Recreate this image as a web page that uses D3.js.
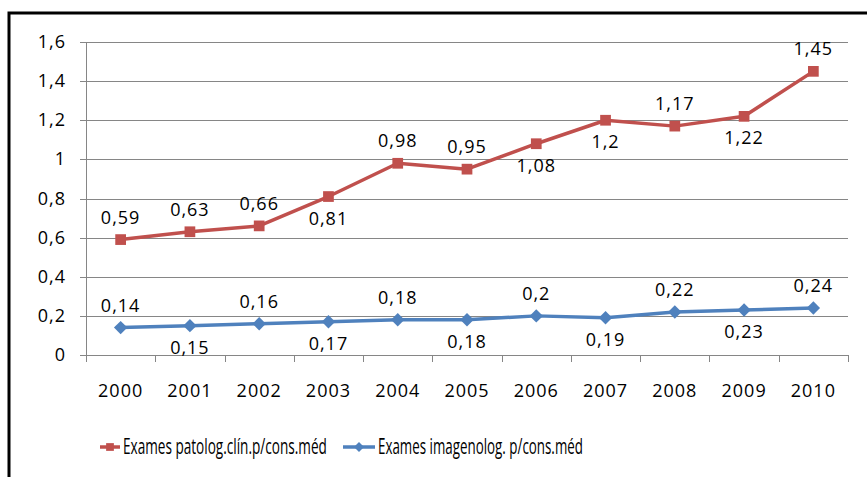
<!DOCTYPE html>
<html>
<head>
<meta charset="utf-8">
<script src="https://cdn.jsdelivr.net/npm/d3@7"></script>
<style>
  body { margin: 0; background: #fff; }
  text { font-family: "Open Sans", "Liberation Sans", sans-serif; fill: #000; }
</style>
</head>
<body>
<svg width="867" height="477"></svg>
<script>
const years = ['2000', '2001', '2002', '2003', '2004', '2005', '2006', '2007', '2008', '2009', '2010'];
const patolog = [0.59, 0.63, 0.66, 0.81, 0.98, 0.95, 1.08, 1.2, 1.17, 1.22, 1.45];
const imagen = [0.14, 0.15, 0.16, 0.17, 0.18, 0.18, 0.2, 0.19, 0.22, 0.23, 0.24];
// label placement: 1 = above, -1 = below
const patologPos = [1, 1, 1, -1, 1, 1, -1, -1, 1, -1, 1];
const imagenPos = [1, -1, 1, -1, 1, -1, 1, -1, 1, -1, 1];
const yTicks = [0, 0.2, 0.4, 0.6, 0.8, 1, 1.2, 1.4, 1.6];
const seriesNames = ['Exames patolog.clín.p/cons.méd', 'Exames imagenolog. p/cons.méd'];

const svg = d3.select('svg');
const fmt = d => String(d).replace('.', ',');

const x = d3.scaleBand().domain(years).range([86, 848]);
const y = d3.scaleLinear().domain([0, 1.6]).range([355, 42]);

// square-ish diamond like the spreadsheet marker
const diamond = {
  draw(ctx, size) {
    const r = Math.sqrt(size / 2);
    ctx.moveTo(0, -r);
    ctx.lineTo(r, 0);
    ctx.lineTo(0, r);
    ctx.lineTo(-r, 0);
    ctx.closePath();
  },
};

// frame
svg.append('path')
  .attr('d', 'M9,477 V13 H867')
  .attr('fill', 'none')
  .attr('stroke', '#000')
  .attr('stroke-width', 3);

// grid
svg.append('g')
  .selectAll('line')
  .data(yTicks)
  .enter().append('line')
  .attr('x1', 80).attr('x2', 848)
  .attr('y1', d => Math.round(y(d)) + 0.5)
  .attr('y2', d => Math.round(y(d)) + 0.5)
  .attr('stroke', '#868686');

svg.append('line')
  .attr('x1', 86.5).attr('x2', 86.5)
  .attr('y1', y(1.6)).attr('y2', y(0))
  .attr('stroke', '#868686');

// x ticks at band boundaries
svg.append('g')
  .selectAll('line')
  .data(years.concat(['end']))
  .enter().append('line')
  .attr('x1', (d, i) => Math.round(86 + i * x.step()) + 0.5)
  .attr('x2', (d, i) => Math.round(86 + i * x.step()) + 0.5)
  .attr('y1', y(0)).attr('y2', y(0) + 7)
  .attr('stroke', '#868686');

svg.append('g')
  .selectAll('text')
  .data(yTicks)
  .enter().append('text')
  .attr('x', 66)
  .attr('y', d => y(d) + 6)
  .attr('text-anchor', 'end')
  .style('font-size', '18px')
  .style('letter-spacing', '1px')
  .text(fmt);

svg.append('g')
  .selectAll('text')
  .data(years)
  .enter().append('text')
  .attr('x', d => x(d) + x.bandwidth() / 2)
  .attr('y', 397)
  .attr('text-anchor', 'middle')
  .style('font-size', '18px')
  .style('letter-spacing', '1px')
  .text(d => d);

const cx = (d, i) => x(years[i]) + x.bandwidth() / 2;
const line = d3.line().x(cx).y(d => y(d));

function drawSeries(values, pos, color, shape, msize) {
  const g = svg.append('g');
  g.append('path')
    .attr('d', line(values))
    .attr('fill', 'none')
    .attr('stroke', color)
    .attr('stroke-width', 3.5)
    .attr('stroke-linejoin', 'round');
  g.selectAll('path.m')
    .data(values)
    .enter().append('path')
    .attr('class', 'm')
    .attr('transform', (d, i) => `translate(${cx(d, i)},${y(d)})`)
    .attr('d', d3.symbol().type(shape).size(msize))
    .attr('fill', color);
  g.selectAll('text')
    .data(values)
    .enter().append('text')
    .attr('x', cx)
    .attr('y', (d, i) => y(d) + (pos[i] > 0 ? -16 : 28))
    .attr('text-anchor', 'middle')
    .style('font-size', '18px')
    .style('letter-spacing', '1px')
    .text(fmt);
}

drawSeries(patolog, patologPos, '#C0504D', d3.symbolSquare, 115);
drawSeries(imagen, imagenPos, '#4F81BD', diamond, 90);

// legend
const legend = [
  { name: seriesNames[0], color: '#C0504D', shape: d3.symbolSquare, size: 60, x: 100, lineW: 20, len: 204 },
  { name: seriesNames[1], color: '#4F81BD', shape: diamond, size: 50, x: 343, lineW: 32, len: 205 },
];
const lg = svg.append('g').selectAll('g').data(legend).enter().append('g')
  .attr('transform', d => `translate(${d.x},447)`);
lg.append('line')
  .attr('x1', 0).attr('x2', d => d.lineW)
  .attr('stroke', d => d.color)
  .attr('stroke-width', 3.5);
lg.append('path')
  .attr('transform', d => `translate(${d.lineW / 2},0)`)
  .attr('d', d => d3.symbol().type(d.shape).size(d.size)())
  .attr('fill', d => d.color);
// condensed look: squeeze the text horizontally to the measured width
lg.append('text')
  .style('font-size', '21px')
  .text(d => d.name)
  .each(function (d) {
    const w = this.getComputedTextLength();
    d3.select(this).attr('transform', `translate(${d.lineW + 3},7) scale(${d.len / w},1)`);
  });
</script>
</body>
</html>
